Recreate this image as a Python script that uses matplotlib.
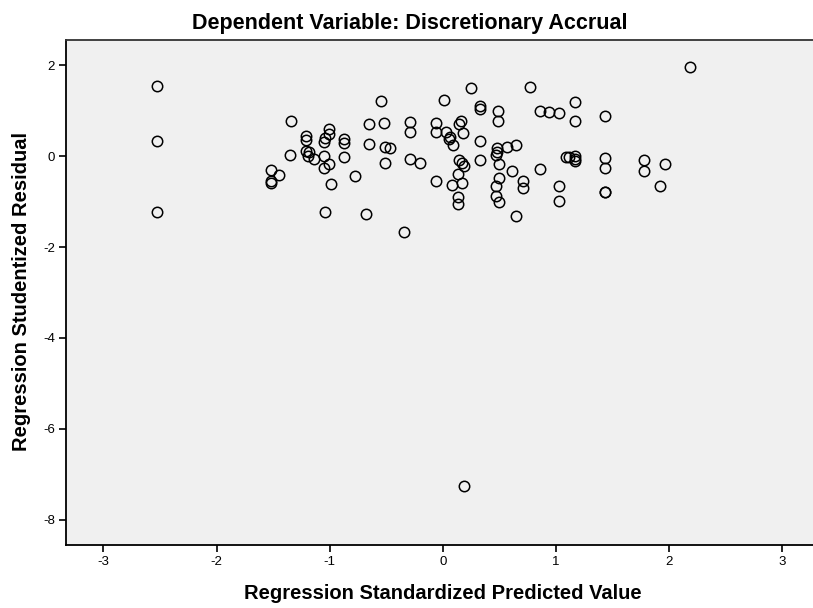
import matplotlib
matplotlib.use('Agg')
import matplotlib.pyplot as plt

plt.rcParams['font.family'] = ['Liberation Sans', 'DejaVu Sans']

# Standardized predicted value (x) and studentized residual (y)
pred = [-2.53, -2.53, -2.53, -1.34, -1.35, -1.21, -1.21, -1.21, -1.18, -1.19,
        -1.14, -1.52, -1.52, -1.52, -1.45, -1.01, -1.01, -1.04, -1.05, -1.05,
        -1.01, -1.05, -0.99, -1.04, -0.87, -0.87, -0.87, -0.78, -0.68, -0.55,
        -0.65, -0.52, -0.65, -0.51, -0.47, -0.51, -0.34, -0.29, -0.29, -0.29,
        -0.20, -0.06, -0.06, -0.06, 0.01, 0.03, 0.05, 0.06, 0.09, 0.16,
        0.14, 0.18, 0.14, 0.17, 0.19, 0.13, 0.08, 0.17, 0.13, 0.13,
        0.25, 0.33, 0.33, 0.33, 0.33, 0.49, 0.49, 0.48, 0.48, 0.47,
        0.50, 0.50, 0.47, 0.47, 0.50, 0.57, 0.65, 0.61, 0.71, 0.71,
        0.65, 0.77, 0.86, 0.94, 1.03, 0.86, 1.03, 1.03, 1.09, 1.17,
        1.17, 1.11, 1.17, 1.17, 1.17, 1.43, 1.43, 1.43, 1.43, 1.43,
        1.78, 1.78, 1.96, 1.92, 2.18, 0.19]
resid = [1.54, 0.34, -1.22, 0.78, 0.03, 0.44, 0.35, 0.12, 0.09, -0.01,
         -0.07, -0.31, -0.54, -0.59, -0.42, 0.59, 0.49, 0.40, 0.31, 0.00,
         -0.18, -0.26, -0.61, -1.22, 0.38, 0.29, -0.03, -0.43, -1.28, 1.22,
         0.71, 0.72, 0.27, 0.20, 0.17, -0.16, -1.67, 0.74, 0.52, -0.07,
         -0.16, -0.56, 0.72, 0.52, 1.23, 0.53, 0.37, 0.41, 0.24, 0.78,
         0.70, 0.50, -0.09, -0.15, -0.21, -0.39, -0.63, -0.59, -0.89, -1.05,
         1.49, 1.10, 1.04, 0.34, -0.08, 1.00, 0.78, 0.18, 0.09, 0.03,
         -0.18, -0.48, -0.66, -0.88, -1.00, 0.19, 0.24, -0.34, -0.56, -0.70,
         -1.32, 1.52, 1.00, 0.97, 0.95, -0.28, -0.67, -0.99, -0.03, 1.19,
         0.77, -0.03, -0.01, -0.07, -0.12, 0.87, -0.04, -0.26, -0.78, -0.80,
         -0.09, -0.32, -0.18, -0.67, 1.96, -7.25]

xticks = [-3, -2, -1, 0, 1, 2, 3]
yticks = [2, 0, -2, -4, -6, -8]

fig = plt.figure(figsize=(8.13, 6.08), dpi=100)
ax = fig.add_axes([66 / 813, 63 / 608, 747 / 813, 505 / 608])
ax.set_facecolor('#f0f0f0')

ax.plot(pred, resid, linestyle='none', marker='o', markersize=7.5,
        markerfacecolor='none', markeredgecolor='black', markeredgewidth=1.1)

ax.set_xlim(-3.33, 3.27)
ax.set_ylim(-8.55, 2.55)
ax.set_xticks(xticks)
ax.set_yticks(yticks)
ax.set_xticklabels([str(t) for t in xticks])
ax.set_yticklabels([str(t) for t in yticks])
ax.tick_params(direction='out', length=5, width=1.2, labelsize=9.5, pad=3)

ax.spines['right'].set_visible(False)
for s in ['top', 'left', 'bottom']:
    ax.spines[s].set_linewidth(1.3)
ax.spines['top'].set_color('#333333')

fig.text(0.504, 0.962, 'Dependent Variable: Discretionary Accrual',
         ha='center', va='center', fontsize=15.5, fontweight='bold')
fig.text(0.545, 0.024, 'Regression Standardized Predicted Value',
         ha='center', va='center', fontsize=14.5, fontweight='bold')
fig.text(0.026, 0.52, 'Regression Studentized Residual', rotation=90,
         ha='center', va='center', fontsize=14.5, fontweight='bold')

fig.savefig('out.png', dpi=100)
